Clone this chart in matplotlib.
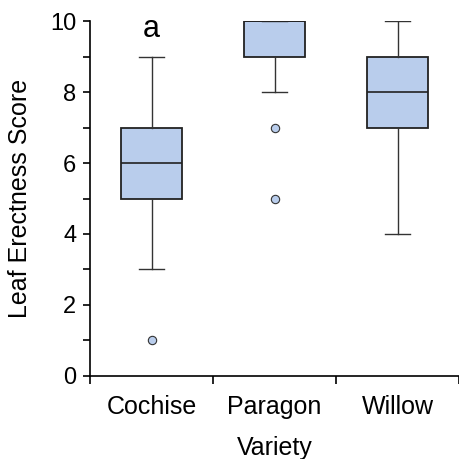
import matplotlib
matplotlib.use("Agg")
import matplotlib.pyplot as plt

plt.rcParams['font.family'] = ['Liberation Sans', 'DejaVu Sans']

varieties = ["Cochise", "Paragon", "Willow"]
q1 = [5, 9, 7]
medians = [6, 10, 8]
q3 = [7, 10, 9]
whisker_low = [3, 8, 4]
whisker_high = [9, 10, 10]
outliers = [[1], [7, 5], []]

stats = []
for i, name in enumerate(varieties):
    stats.append({
        "label": name,
        "q1": q1[i], "med": medians[i], "q3": q3[i],
        "whislo": whisker_low[i], "whishi": whisker_high[i],
        "fliers": outliers[i],
    })

fig = plt.figure(figsize=(4.6, 4.59), dpi=100)
ax = fig.add_axes([0.196, 0.181, 0.802, 0.773])

edge = "#222222"
ax.bxp(stats, positions=[1, 2, 3], widths=0.5, patch_artist=True,
       boxprops=dict(facecolor="#B9CDEC", edgecolor=edge, linewidth=1.3),
       medianprops=dict(color=edge, linewidth=1.2),
       whiskerprops=dict(color="#333333", linewidth=1.0),
       capprops=dict(color="#333333", linewidth=1.0),
       capwidths=0.2,
       flierprops=dict(marker="o", markersize=6, markerfacecolor="#B9CDEC",
                       markeredgecolor="#333333", markeredgewidth=0.8))

ax.text(1, 9.77, "a", ha="center", va="center", fontsize=22)

ax.set_xlim(0.5, 3.5)
ax.set_ylim(0, 10)
ax.set_yticks(range(0, 11, 2))
ax.set_yticks(range(1, 11, 2), minor=True)
ax.set_xticks([1, 2, 3])
ax.set_xticklabels(varieties)
ax.set_xticks([0.5, 1.5, 2.5, 3.5], minor=True)
ax.tick_params(axis="x", which="major", length=0, pad=14, labelsize=18)
ax.tick_params(axis="x", which="minor", length=6, width=1.2, direction="out")
ax.tick_params(axis="y", which="both", length=5, width=1.2, labelsize=17, pad=5)

for s in ["top", "right"]:
    ax.spines[s].set_visible(False)
for s in ["left", "bottom"]:
    ax.spines[s].set_linewidth(1.2)

ax.set_xlabel("Variety", fontsize=18, labelpad=12)
ax.set_ylabel("Leaf Erectness Score", fontsize=18, labelpad=13)

fig.savefig("out.png", dpi=100)
